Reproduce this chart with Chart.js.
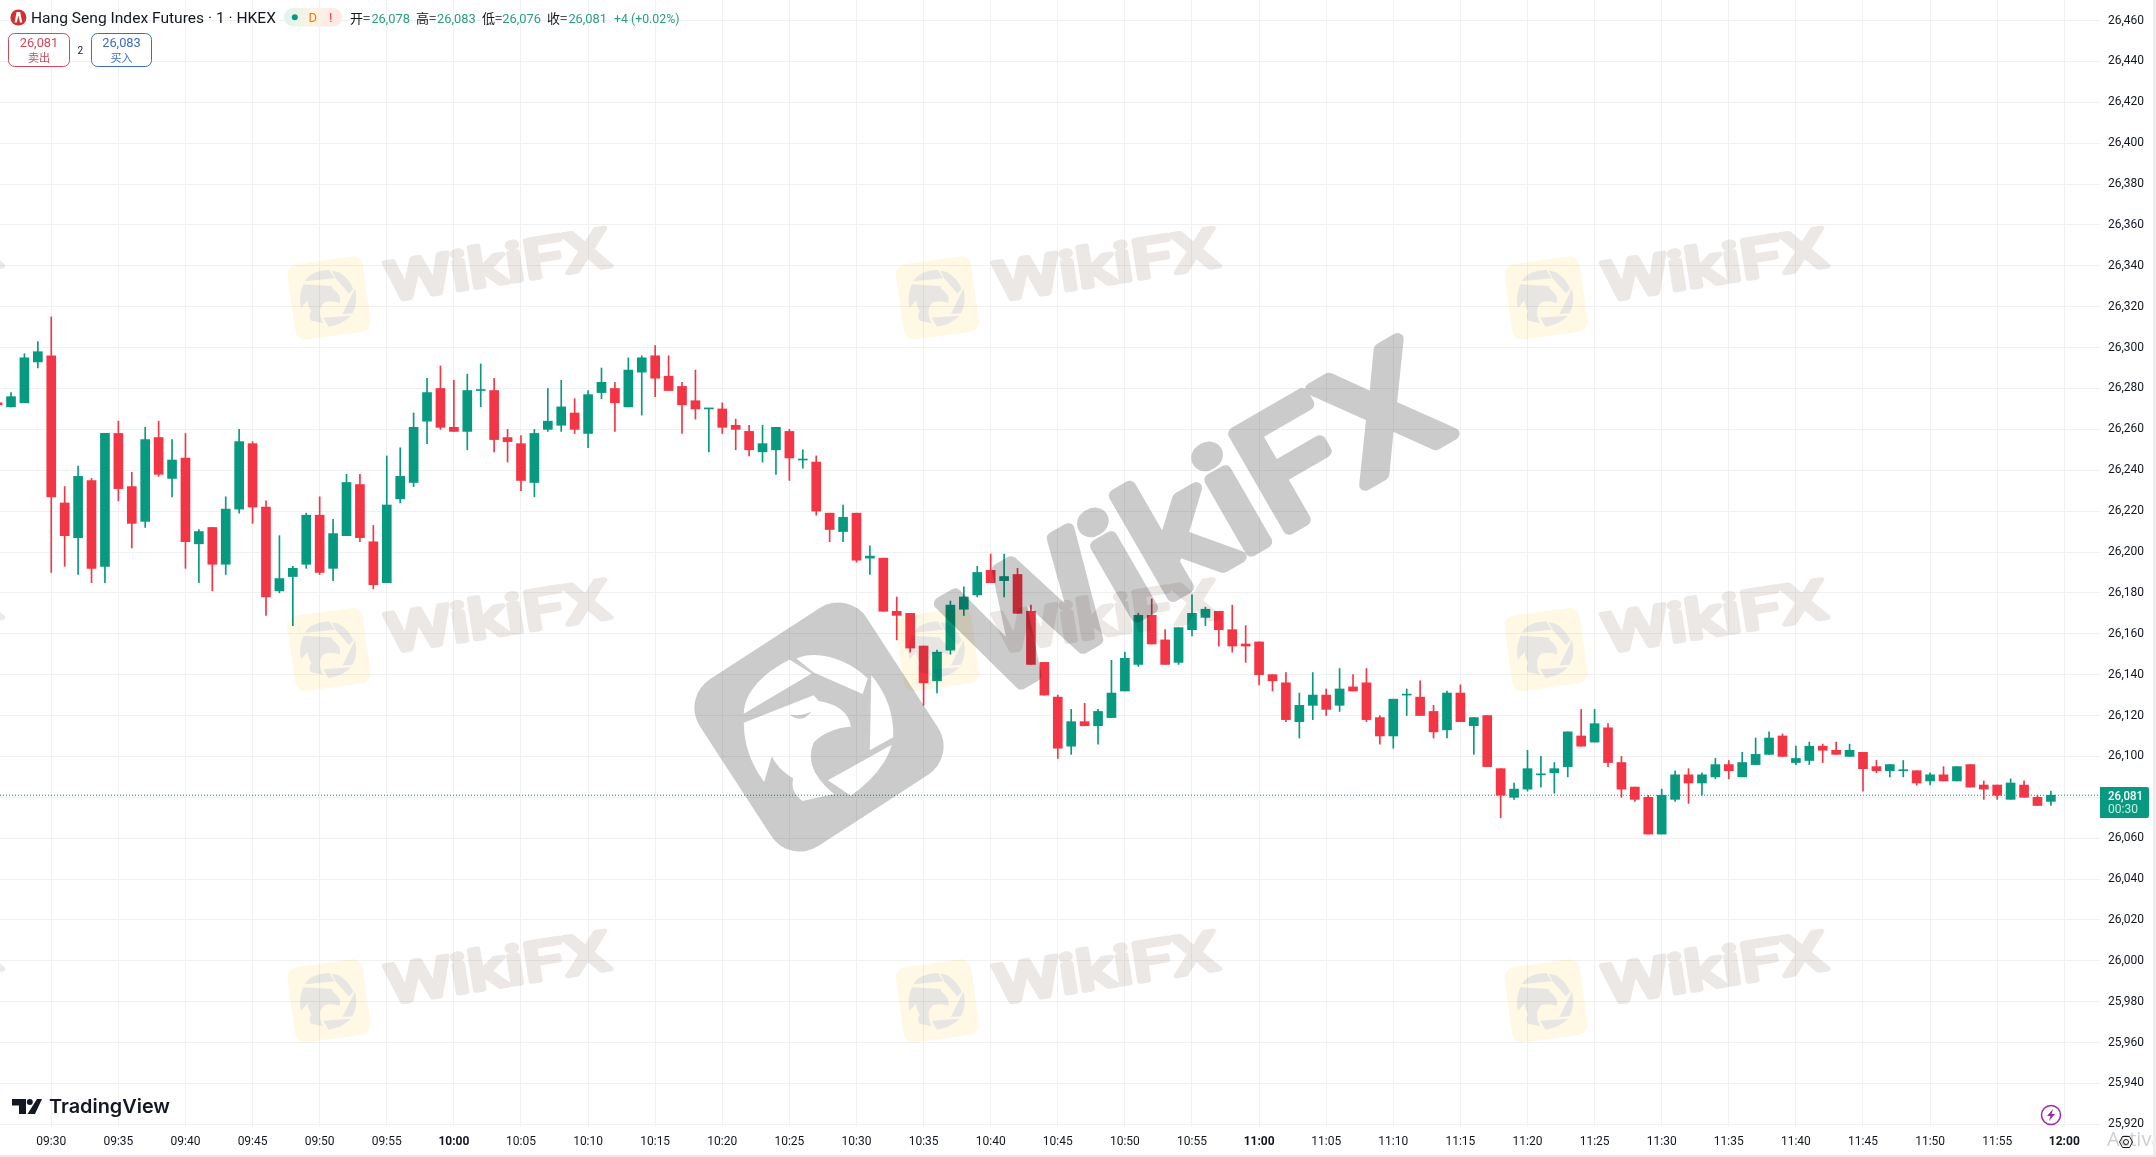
<!DOCTYPE html>
<html><head><meta charset="utf-8">
<style>
html,body{margin:0;padding:0;background:#fff;overflow:hidden;width:2156px;height:1157px}
#c{position:absolute;left:0;top:0;width:2156px;height:1157px}
svg{position:absolute;left:0;top:0}
.wm{mix-blend-mode:multiply}
text{font-family:Roboto,sans-serif}
.cjk{font-family:"Noto Sans CJK SC",sans-serif}
</style>
<script src="https://cdn.jsdelivr.net/npm/chart.js@4/dist/chart.umd.min.js"></script>
</head><body>
<canvas id="c" width="2156" height="1157"></canvas>

<svg class="wm" width="2156" height="1157" viewBox="0 0 2156 1157">
 <defs>
  <g id="eagle">
   <path d="M228,982C270,955 330,985 368,1040L358,1085L262,1022Z"/>
   <path d="M215,985L258,1025L125,1142C125,1080 165,1020 215,985Z"/>
   <path d="M125,1168L262,1088L272,1105Q330,1120 335,1180Q290,1185 262,1225Q240,1300 302,1375L240,1395Q215,1370 222,1330Q190,1300 180,1265L165,1340Q125,1260 125,1168Z"/>
   <path d="M375,1030Q420,1110 418,1210L372,1248Z"/>
   <path d="M415,1232Q400,1310 335,1380L290,1335Z"/>
  </g>
  <g id="tile">
   <rect x="-38" y="-38" width="76" height="76" rx="10" fill="#fff8e4" transform="translate(329,298) rotate(-8)"/>
   <g fill="#e8e6e3" transform="translate(329,298) rotate(25) scale(.38) translate(-820,-727) translate(680,320) scale(.5102,.3448)"><use href="#eagle"/></g>
   <text transform="translate(389,301) rotate(-9)" font-size="54" font-weight="400" textLength="226" lengthAdjust="spacingAndGlyphs" fill="#ebe8e6" stroke="#ebe8e6" stroke-width="5" stroke-linejoin="round">WikiFX</text>
  </g>
 </defs>
 <use href="#tile" x="-608.5" y="0"/><use href="#tile" x="0" y="0"/><use href="#tile" x="608.5" y="0"/><use href="#tile" x="1217" y="0"/>
 <use href="#tile" x="-608.5" y="351.5"/><use href="#tile" x="0" y="351.5"/><use href="#tile" x="608.5" y="351.5"/><use href="#tile" x="1217" y="351.5"/>
 <use href="#tile" x="-608.5" y="703"/><use href="#tile" x="0" y="703"/><use href="#tile" x="608.5" y="703"/><use href="#tile" x="1217" y="703"/>
</svg>
<svg class="wm" width="2156" height="1157" viewBox="0 0 2156 1157">
 <rect x="-99.5" y="-99.5" width="199" height="199" rx="34" fill="#cbcbcb" transform="translate(819,727) rotate(-33)"/>
 <g fill="#fff" transform="translate(680,320) scale(.5102,.3448)"><use href="#eagle"/>
  <path d="M215,1145Q240,1172 258,1135Q240,1150 215,1145Z" fill="#cbcbcb"/></g>
 <text transform="translate(991,701) rotate(-30)" font-size="155" font-weight="400" textLength="538" lengthAdjust="spacingAndGlyphs" fill="#cbcbcb" stroke="#cbcbcb" stroke-width="12" stroke-linejoin="round">WikiFX</text>
</svg>

<svg width="2156" height="1157" viewBox="0 0 2156 1157">
 <defs><linearGradient id="pill" x1="0" x2="1"><stop offset="0" stop-color="#e0f3ef"/><stop offset=".5" stop-color="#fdf3e2"/><stop offset="1" stop-color="#fde6e8"/></linearGradient></defs>
 <circle cx="18.4" cy="17.5" r="8" fill="#d32f2f"/>
 <path d="M16.6,12h3.6l2,10.5h-2.2l-1.6,-7l-1.6,7h-2.2z" fill="#fff"/>
 <text x="31" y="23" font-size="14.5" fill="#131722" textLength="245" lengthAdjust="spacingAndGlyphs">Hang Seng Index Futures · 1 · HKEX</text>
 <rect x="284" y="8" width="58" height="18.5" rx="9" fill="url(#pill)"/>
 <circle cx="294.8" cy="17.3" r="3" fill="#089981"/>
 <text x="312.7" y="22" font-size="13" text-anchor="middle" fill="#f57c00">D</text>
 <text x="330.6" y="22" font-size="13" text-anchor="middle" fill="#f23645">!</text>
 <text class="cjk" x="350" y="22.5" font-size="13" fill="#131722">开=</text>
 <text x="371.4" y="22.5" font-size="13" fill="#2a9d84" textLength="38.6" lengthAdjust="spacingAndGlyphs">26,078</text>
 <text class="cjk" x="416" y="22.5" font-size="13" fill="#131722">高=</text>
 <text x="437" y="22.5" font-size="13" fill="#2a9d84" textLength="38.6" lengthAdjust="spacingAndGlyphs">26,083</text>
 <text class="cjk" x="482" y="22.5" font-size="13" fill="#131722">低=</text>
 <text x="502.3" y="22.5" font-size="13" fill="#2a9d84" textLength="38.6" lengthAdjust="spacingAndGlyphs">26,076</text>
 <text class="cjk" x="547" y="22.5" font-size="13" fill="#131722">收=</text>
 <text x="568.4" y="22.5" font-size="13" fill="#2a9d84" textLength="38.6" lengthAdjust="spacingAndGlyphs">26,081</text>
 <text x="614" y="22.5" font-size="13" fill="#2a9d84" textLength="65.5" lengthAdjust="spacingAndGlyphs">+4 (+0.02%)</text>

 <rect x="8.5" y="33.5" width="61" height="33" rx="6" fill="#fff" stroke="#d2475a"/>
 <text x="39" y="47" font-size="13" text-anchor="middle" fill="#d2475a" textLength="38.6" lengthAdjust="spacingAndGlyphs">26,081</text>
 <text class="cjk" x="39" y="62" font-size="11" text-anchor="middle" fill="#d2475a">卖出</text>
 <text x="80.3" y="54" font-size="10" text-anchor="middle" fill="#131722">2</text>
 <rect x="91.5" y="33.5" width="60" height="33" rx="6" fill="#fff" stroke="#3d6dbf"/>
 <text x="121.5" y="47" font-size="13" text-anchor="middle" fill="#3d6dbf" textLength="38.6" lengthAdjust="spacingAndGlyphs">26,083</text>
 <text class="cjk" x="121.5" y="62" font-size="11" text-anchor="middle" fill="#3d6dbf">买入</text>

 <path d="M12,1099H26V1114H19V1105.5H12Z" fill="#131722"/>
 <circle cx="29.8" cy="1102" r="3" fill="#131722"/>
 <path d="M37,1099H42L35,1114H27.5Z" fill="#131722"/>
 <text x="49" y="1113" font-size="19" font-weight="600" style="font-family:Inter,sans-serif" fill="#131722" textLength="121" lengthAdjust="spacingAndGlyphs">TradingView</text>

 <path d="M2100,787H2147a2,2 0 0 1 2,2V816a2,2 0 0 1 -2,2H2100Z" fill="#089981"/>
 <text x="2108" y="799.5" font-size="12" font-weight="500" fill="#fff" textLength="35" lengthAdjust="spacingAndGlyphs">26,081</text>
 <text x="2108" y="813" font-size="12" fill="#c8efe6" textLength="30" lengthAdjust="spacingAndGlyphs">00:30</text>

 <circle cx="2051" cy="1115" r="9.5" fill="#fff" stroke="#9c27b0" stroke-width="1.5"/>
 <path d="M2053,1109L2047,1116H2050.5L2049,1121L2055,1114H2051.5Z" fill="#9c27b0"/>
 <text x="2107" y="1146" font-size="20" fill="#cfcfcf" style="font-family:'Open Sans',sans-serif">Activa</text>
 <path d="M2119.5,1142L2122.5,1136.5H2129.5L2132.5,1142L2129.5,1147.5H2122.5Z" fill="none" stroke="#131722"/>
 <circle cx="2126" cy="1142" r="2.5" fill="none" stroke="#131722"/>
 <rect x="2153" y="0" width="3" height="1157" fill="#eeeeee"/>
 <rect x="0" y="1155" width="2156" height="2" fill="#e8e8e8"/>
</svg>

<script>
const times = [
 '09:26','09:27','09:28','09:29','09:30','09:31','09:32','09:33','09:34','09:35','09:36','09:37','09:38','09:39',
 '09:40','09:41','09:42','09:43','09:44','09:45','09:46','09:47','09:48','09:49','09:50','09:51','09:52','09:53','09:54','09:55','09:56','09:57','09:58','09:59',
 '10:00','10:01','10:02','10:03','10:04','10:05','10:06','10:07','10:08','10:09','10:10','10:11','10:12','10:13','10:14','10:15','10:16','10:17','10:18','10:19',
 '10:20','10:21','10:22','10:23','10:24','10:25','10:26','10:27','10:28','10:29','10:30','10:31','10:32','10:33','10:34','10:35','10:36','10:37','10:38','10:39',
 '10:40','10:41','10:42','10:43','10:44','10:45','10:46','10:47','10:48','10:49','10:50','10:51','10:52','10:53','10:54','10:55','10:56','10:57','10:58','10:59',
 '11:00','11:01','11:02','11:03','11:04','11:05','11:06','11:07','11:08','11:09','11:10','11:11','11:12','11:13','11:14','11:15','11:16','11:17','11:18','11:19',
 '11:20','11:21','11:22','11:23','11:24','11:25','11:26','11:27','11:28','11:29','11:30','11:31','11:32','11:33','11:34','11:35','11:36','11:37','11:38','11:39',
 '11:40','11:41','11:42','11:43','11:44','11:45','11:46','11:47','11:48','11:49','11:50','11:51','11:52','11:53','11:54','11:55','11:56','11:57','11:58','11:59'];
const opens = [
 26273,26271,26273,26293,26296,26224,26207,26235,26193,26258,26232,26215,26256,26236,
 26246,26204,26212,26194,26221,26253,26222,26181,26188,26194,26218,26192,26208,26233,26205,26185,26226,26234,26264,26280,
 26261,26259,26279,26279,26256,26253,26234,26260,26262,26268,26258,26278,26280,26271,26288,26296,26286,26281,26274,26270,
 26270,26262,26259,26249,26250,26259,26245,26244,26219,26210,26219,26197,26197,26171,26170,26154,26137,26152,26172,26179,
 26191,26186,26189,26171,26146,26129,26105,26117,26115,26119,26132,26145,26169,26157,26146,26162,26168,26171,26162,26155,
 26156,26140,26136,26117,26125,26130,26125,26134,26136,26119,26110,26130,26129,26122,26113,26131,26115,26120,26094,26080,
 26084,26091,26092,26095,26110,26107,26114,26097,26085,26080,26062,26079,26091,26087,26090,26096,26090,26096,26101,26110,
 26097,26098,26105,26103,26100,26102,26095,26093,26093,26093,26088,26091,26088,26096,26086,26086,26079,26086,26080,26078];
const highs = [
 26274,26278,26297,26303,26315,26232,26242,26236,26258,26264,26239,26261,26264,26255,
 26258,26211,26212,26227,26260,26254,26225,26208,26193,26219,26227,26216,26238,26238,26213,26247,26251,26268,26285,26291,
 26284,26287,26292,26285,26260,26257,26260,26280,26284,26275,26279,26290,26283,26295,26296,26301,26296,26283,26289,26270,
 26273,26265,26262,26262,26261,26260,26250,26247,26219,26223,26219,26203,26197,26178,26170,26154,26152,26176,26183,26193,
 26199,26199,26192,26174,26146,26130,26123,26126,26123,26147,26151,26170,26177,26162,26163,26179,26173,26171,26174,26164,
 26156,26140,26141,26131,26141,26133,26143,26140,26143,26120,26128,26133,26137,26125,26132,26135,26119,26120,26094,26087,
 26103,26100,26097,26112,26123,26123,26116,26100,26085,26081,26084,26093,26094,26092,26099,26098,26102,26109,26112,26111,
 26105,26107,26106,26107,26106,26102,26098,26096,26098,26093,26092,26095,26095,26096,26088,26086,26089,26088,26081,26083];
const lows = [
 26271,26271,26273,26290,26190,26193,26189,26185,26185,26225,26202,26212,26237,26227,
 26192,26185,26181,26189,26219,26214,26169,26180,26164,26192,26189,26186,26208,26205,26182,26185,26224,26232,26253,26260,
 26259,26250,26271,26249,26244,26230,26227,26259,26259,26258,26251,26275,26259,26271,26267,26276,26279,26258,26265,26249,
 26258,26250,26247,26244,26238,26235,26241,26218,26205,26205,26195,26189,26171,26157,26151,26125,26131,26150,26169,26178,
 26185,26178,26170,26145,26130,26099,26101,26115,26106,26119,26132,26144,26155,26145,26145,26159,26164,26154,26151,26146,
 26135,26132,26117,26109,26118,26120,26122,26132,26117,26106,26104,26120,26120,26109,26109,26117,26101,26095,26070,26079,
 26083,26085,26082,26090,26105,26107,26095,26080,26078,26062,26062,26078,26077,26081,26089,26089,26090,26096,26101,26100,
 26096,26096,26097,26101,26100,26083,26092,26090,26090,26086,26086,26088,26088,26085,26079,26079,26079,26080,26076,26076];
const closes = [
 26272,26276,26295,26298,26227,26208,26237,26192,26258,26231,26214,26255,26238,26245,
 26205,26210,26194,26221,26254,26222,26178,26187,26192,26218,26190,26209,26234,26207,26184,26223,26237,26261,26278,26261,
 26259,26279,26279,26255,26254,26235,26258,26264,26271,26260,26277,26283,26273,26289,26295,26285,26279,26272,26270,26270,
 26261,26260,26250,26253,26261,26246,26245,26220,26211,26217,26196,26198,26171,26169,26153,26136,26151,26174,26178,26190,
 26185,26188,26170,26145,26130,26104,26117,26115,26122,26131,26148,26169,26155,26145,26163,26170,26172,26162,26154,26154,
 26140,26137,26118,26125,26130,26123,26133,26132,26118,26110,26128,26130,26120,26112,26131,26117,26119,26095,26081,26084,
 26094,26091,26094,26112,26105,26116,26097,26084,26079,26062,26081,26091,26087,26091,26096,26093,26097,26101,26109,26100,
 26099,26105,26103,26101,26103,26094,26093,26096,26093,26087,26091,26088,26095,26085,26084,26081,26087,26080,26076,26081];
const timeTicks = ['09:30','09:35','09:40','09:45','09:50','09:55','10:00','10:05','10:10','10:15','10:20','10:25','10:30','10:35','10:40','10:45','10:50','10:55','11:00','11:05','11:10','11:15','11:20','11:25','11:30','11:35','11:40','11:45','11:50','11:55','12:00'];
const boldTimes = ['10:00','11:00','12:00'];
const priceTicks = [25920,25940,25960,25980,26000,26020,26040,26060,26080,26100,26120,26140,26160,26180,26200,26220,26240,26260,26280,26300,26320,26340,26360,26380,26400,26420,26440,26460];
const hiddenPriceTicks = [26080];
const lastPrice = 26081;

const UP = '#089981', DOWN = '#F23645', GRID = '#f1f1f1', INK = '#131722';
const toMin = t => { const [h, m] = t.split(':').map(Number); return h * 60 + m - 570; };
const toLabel = v => { const t = v + 570; return String(Math.floor(t / 60)).padStart(2, '0') + ':' + String(t % 60).padStart(2, '0'); };
const xMin = -3.82, xMax = 152.66;
const colors = opens.map((o, i) => closes[i] >= o ? UP : DOWN);

new Chart(document.getElementById('c'), {
  type: 'bar',
  data: { datasets: [
    { type: 'line', data: [{ x: xMin, y: lastPrice }, { x: xMax, y: lastPrice }], borderColor: UP, borderWidth: 1, borderDash: [1, 2], pointRadius: 0, order: 3 },
    { data: times.map((t, i) => ({ x: toMin(t), y: [lows[i], highs[i]] })), backgroundColor: colors, barThickness: 1, grouped: false, order: 2 },
    { data: times.map((t, i) => ({ x: toMin(t), y: [opens[i], closes[i]] })), backgroundColor: colors, barThickness: 9, minBarLength: 1, grouped: false, order: 1 }
  ] },
  options: {
    responsive: false, animation: false, devicePixelRatio: 1,
    layout: { padding: 0 },
    plugins: { legend: { display: false }, tooltip: { enabled: false } },
    scales: {
      x: {
        type: 'linear', min: xMin, max: xMax, offset: false,
        grid: { offset: false, color: GRID, drawTicks: false, lineWidth: 1 }, border: { display: false },
        afterBuildTicks: s => { s.ticks = timeTicks.map(t => ({ value: toMin(t) })); },
        afterFit: s => { s.height = 30; s.paddingLeft = 0; s.paddingRight = 0; },
        ticks: { autoSkip: false, maxRotation: 0, padding: 8, color: INK,
          font: c => ({ family: 'Roboto', size: 12, weight: c.tick && boldTimes.includes(toLabel(c.tick.value)) ? '700' : '400' }),
          callback: v => toLabel(v) }
      },
      y: {
        position: 'right', min: 25918.7, max: 26470.05,
        grid: { color: GRID, drawTicks: false, lineWidth: 1 }, border: { display: false },
        afterBuildTicks: s => { s.ticks = priceTicks.map(v => ({ value: v })); },
        afterFit: s => { s.width = 56; s.paddingTop = 0; s.paddingBottom = 0; },
        ticks: { autoSkip: false, padding: 8, color: INK, font: { family: 'Roboto', size: 12 },
          callback: v => hiddenPriceTicks.includes(v) ? '' : v.toLocaleString('en-US') }
      }
    }
  }
});
</script>
</body></html>
